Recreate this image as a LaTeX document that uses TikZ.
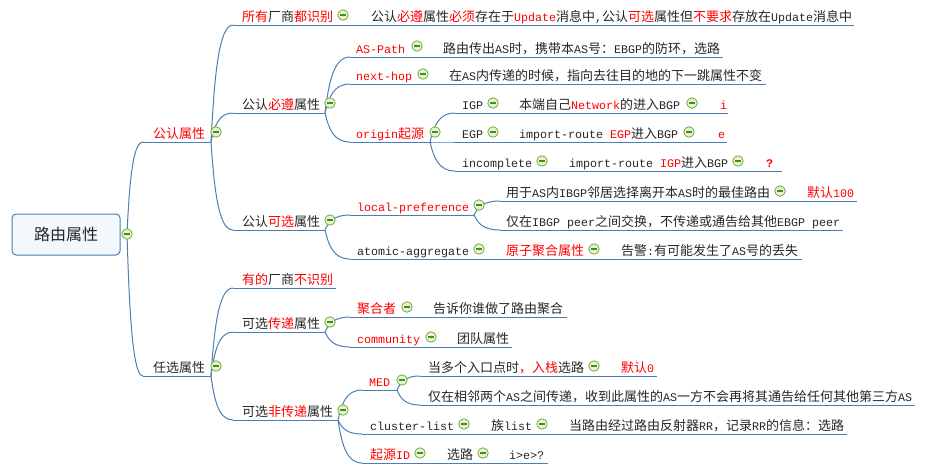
\documentclass[tikz,border=0pt]{standalone}
\usepackage{fontspec}
\setmainfont{Noto Sans CJK SC}
\newfontfamily\monof{Liberation Mono}
\usetikzlibrary{calc}
\definecolor{lnc}{RGB}{74,126,180}
\definecolor{txt}{RGB}{38,38,38}
\definecolor{cg}{RGB}{112,172,58}
\definecolor{cfill}{RGB}{230,244,214}
\definecolor{cminus}{RGB}{70,140,30}
\definecolor{rootfill}{RGB}{243,248,253}
\newcommand\m[1]{{\monof\fontsize{11.67}{14}\selectfont #1}}
\newcommand\R[1]{\textcolor{red}{#1}}
\newcommand\row[4]{\coordinate (#1-s) at (#2,#3); \coordinate (#1-e) at (#4,#3); \draw[ulin] (#1-s) -- (#1-e);}
\newcommand\conn[2]{\draw[cn] let \p1=(#1), \p2=(#2) in (\p1) .. controls ({\x1+0.15*(\x2-\x1)},{\y1+0.55*(\y2-\y1)}) and ({\x1+0.35*(\x2-\x1)},{\y2}) .. (\p2);}
\begin{document}
\begin{tikzpicture}[x=1pt,y=-1pt,
 lab/.style={anchor=base west,inner sep=0pt,outer sep=0pt,text=txt,font=\fontsize{13}{15}\selectfont},
 ulin/.style={draw=lnc,line width=1pt},
 cn/.style={draw=lnc,line width=1pt},
 cbtn/.style={circle,draw=cg,line width=0.8pt,fill=cfill,minimum size=10.5pt,inner sep=0pt,
   path picture={\draw[cminus,line width=1.2pt] ([xshift=-2.8pt]path picture bounding box.center) -- ([xshift=2.8pt]path picture bounding box.center);}}]
\useasboundingbox (0,0) rectangle (939,469);

% ---------- underlines ----------
\row{A}{143}{142}{211}
\row{B}{143}{376}{211}
\row{A1}{233}{25}{854}
\row{A2}{233}{113}{325}
\row{A3}{233}{230}{325}
\row{P}{350}{57}{723}
\row{N}{350}{84}{766}
\row{O}{350}{142}{430}
\row{IG}{455}{113}{728}
\row{EG}{455}{142}{727}
\row{IC}{455}{171}{782}
\row{LP}{350}{215}{474}
\row{AA}{350}{259}{802}
\row{LP1}{500}{201}{857}
\row{LP2}{500}{230}{843}
\row{B1}{233}{288}{336}
\row{B2}{233}{332}{325}
\row{B3}{233}{420}{338}
\row{AG}{350}{317}{567}
\row{CM}{350}{347}{512}
\row{MED}{362}{390}{397}
\row{CL}{362}{434}{847}
\row{OI}{362}{463}{548}
\row{M1}{420}{376}{657}
\row{M2}{420}{405}{915}

% ---------- root ----------
\node[draw=lnc,fill=rootfill,rounded corners=4pt,line width=1pt,minimum width=108pt,minimum height=41pt,inner sep=0pt,font=\fontsize{16}{18}\selectfont,text=txt] (root) at (66,234.5) {路由属性};
\coordinate (rc0) at (127,234);

% ---------- connectors ----------
\conn{rc0}{A-s}
\conn{rc0}{B-s}
\conn{A-e}{A1-s}
\conn{A-e}{A2-s}
\conn{A-e}{A3-s}
\conn{A2-e}{P-s}
\conn{A2-e}{N-s}
\conn{A2-e}{O-s}
\conn{O-e}{IG-s}
\conn{O-e}{EG-s}
\conn{O-e}{IC-s}
\conn{A3-e}{LP-s}
\conn{A3-e}{AA-s}
\conn{LP-e}{LP1-s}
\conn{LP-e}{LP2-s}
\conn{B-e}{B1-s}
\conn{B-e}{B2-s}
\conn{B-e}{B3-s}
\conn{B2-e}{AG-s}
\conn{B2-e}{CM-s}
\conn{B3-e}{MED-s}
\conn{B3-e}{CL-s}
\conn{B3-e}{OI-s}
\conn{MED-e}{M1-s}
\conn{MED-e}{M2-s}

\node[cbtn] (rc) at (rc0) {};

% ---------- level 1 ----------
\node[lab,text=red] (tA) at (153,138) {公认属性};
\node[cbtn] (cA) at (216,132) {};
\node[lab] (tB) at (153,372) {任选属性};
\node[cbtn] (cB) at (216,366) {};

% ---------- 公认属性 ----------
\node[lab] (tA1) at (242,21) {\R{所有}厂商\R{都识别}};
\node[cbtn] (cA1) at (343,15) {};
\node[lab] (tA1d) at (371,21) {公认\R{必遵}属性\R{必须}存在于\R{\m{Update}}消息中\m{,}公认\R{可选}属性但\R{不要求}存放在\m{Update}消息中};
\node[lab] (tA2) at (242,109) {公认\R{必遵}属性};
\node[cbtn] (cA2) at (330,103) {};
\node[lab] (tA3) at (242,226) {公认\R{可选}属性};
\node[cbtn] (cA3) at (330,220) {};

\node[lab,text=red] (tP) at (356,53) {\m{AS-Path}};
\node[cbtn] (cP) at (417,46) {};
\node[lab] (tPd) at (443,53) {路由传出\m{AS}时，携带本\m{AS}号：\m{EBGP}的防环，选路};
\node[lab,text=red] (tN) at (356,80) {\m{next-hop}};
\node[cbtn] (cN) at (423,74) {};
\node[lab] (tNd) at (449,80) {在\m{AS}内传递的时候，指向去往目的地的下一跳属性不变};
\node[lab,text=red] (tO) at (356,138) {\m{origin}起源};
\node[cbtn] (cO) at (435,132) {};

\node[lab] (tIG) at (462,109) {\m{IGP}};
\node[cbtn] (cIG) at (493,103) {};
\node[lab] (tIGd) at (519,109) {本端自己\R{\m{Network}}的进入\m{BGP}};
\node[cbtn] (cIG2) at (692,103) {};
\node[lab,text=red] (tIGv) at (720,109) {\m{i}};
\node[lab] (tEG) at (462,138) {\m{EGP}};
\node[cbtn] (cEG) at (493,132) {};
\node[lab] (tEGd) at (519,138) {\m{import-route }\R{\m{EGP}}进入\m{BGP}};
\node[cbtn] (cEG2) at (689,132) {};
\node[lab,text=red] (tEGv) at (718,138) {\m{e}};
\node[lab] (tIC) at (462,167) {\m{incomplete}};
\node[cbtn] (cIC) at (542,161) {};
\node[lab] (tICd) at (569,167) {\m{import-route }\R{\m{IGP}}进入\m{BGP}};
\node[cbtn] (cIC2) at (738,161) {};
\node[lab,text=red] (tICv) at (766,167) {\m{\bfseries ?}};

\node[lab,text=red] (tLP) at (357,211) {\m{local-preference}};
\node[cbtn] (cLP) at (479,205) {};
\node[lab] (tLP1) at (506,197) {用于\m{AS}内\m{IBGP}邻居选择离开本\m{AS}时的最佳路由};
\node[cbtn] (cLP1) at (780,191) {};
\node[lab,text=red] (tLP1v) at (807,197) {默认\m{100}};
\node[lab] (tLP2) at (506,226) {仅在\m{IBGP peer}之间交换，不传递或通告给其他\m{EBGP peer}};
\node[lab] (tAA) at (357,255) {\m{atomic-aggregate}};
\node[cbtn] (cAA) at (479,249) {};
\node[lab,text=red] (tAA1) at (506,255) {原子聚合属性};
\node[cbtn] (cAA1) at (594,249) {};
\node[lab] (tAA2) at (621,255) {告警\m{:}有可能发生了\m{AS}号的丢失};

% ---------- 任选属性 ----------
\node[lab] (tB1) at (242,284) {\R{有的}厂商\R{不识别}};
\node[lab] (tB2) at (242,328) {可选\R{传递}属性};
\node[cbtn] (cB2) at (330,322) {};
\node[lab] (tB3) at (242,416) {可选\R{非传递}属性};
\node[cbtn] (cB3) at (343,410) {};

\node[lab,text=red] (tAG) at (357,313) {聚合者};
\node[cbtn] (cAG) at (407,307) {};
\node[lab] (tAGd) at (433,313) {告诉你谁做了路由聚合};
\node[lab,text=red] (tCM) at (357,343) {\m{community}};
\node[cbtn] (cCM) at (431,337) {};
\node[lab] (tCMd) at (457,343) {团队属性};

\node[lab,text=red] (tMED) at (369,386) {\m{MED}};
\node[cbtn] (cMED) at (402,380) {};
\node[lab] (tM1) at (428,372) {当多个入口点时\R{，入栈}选路};
\node[cbtn] (cM1) at (594,366) {};
\node[lab,text=red] (tM1v) at (621,372) {默认\m{0}};
\node[lab] (tM2) at (428,401) {仅在相邻两个\m{AS}之间传递，收到此属性的\m{AS}一方不会再将其通告给任何其他第三方\m{AS}};

\node[lab] (tCL) at (370,430) {\m{cluster-list}};
\node[cbtn] (cCL) at (464,424) {};
\node[lab] (tCL1) at (491,430) {族\m{list}};
\node[cbtn] (cCL1) at (542,424) {};
\node[lab] (tCL2) at (569,430) {当路由经过路由反射器\m{RR}，记录\m{RR}的信息：选路};
\node[lab,text=red] (tOI) at (370,459) {起源\m{ID}};
\node[cbtn] (cOI) at (420,453) {};
\node[lab] (tOI1) at (447,459) {选路};
\node[cbtn] (cOI1) at (483,453) {};
\node[lab] (tOI2) at (509,459) {\m{i>e>?}};
\end{tikzpicture}
\end{document}
